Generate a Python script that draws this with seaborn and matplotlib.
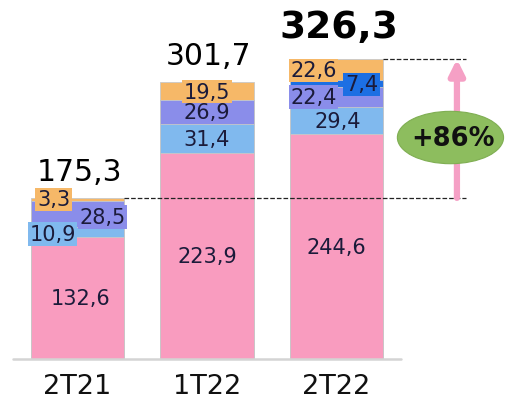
import numpy as np
import pandas as pd
import seaborn as sns
import matplotlib.pyplot as plt
from matplotlib.patches import Ellipse

periods = ['2T21', '1T22', '2T22']
pink = [132.6, 223.9, 244.6]
light_blue = [10.9, 31.4, 29.4]
purple = [28.5, 26.9, 22.4]
dark_blue = [0.0, 0.0, 7.4]
orange = [3.3, 19.5, 22.6]
totals = [175.3, 301.7, 326.3]
growth = '+86%'

layers = [pink, light_blue, purple, dark_blue, orange]
colors = ['#F99CBF', '#80B9EE', '#8A8DEA', '#1C6FE3', '#F6B868']

# label offsets in pixels (dx, dy) relative to segment centre
offsets = [
    [(3, 0), (0, 0), (0, 0)],
    [(-25, -2), (0, 0), (1, 0)],
    [(25, -3), (0, 0), (-23, 0)],
    [None, None, (25, -1)],
    [(-24, 0), (0, -1), (-23, -1)],
]

sns.set_style('white')
plt.rcParams['font.family'] = ['DejaVu Sans']

fig = plt.figure(figsize=(5.08, 4.02), dpi=100)
ax = fig.add_axes([0, 42 / 402, 1, 360 / 402])

cum = np.cumsum(np.array(layers), axis=0)
# stacked bars: draw cumulative heights from the top layer down
for i in range(len(layers) - 1, -1, -1):
    df = pd.DataFrame({'period': periods, 'value': cum[i]})
    sns.barplot(data=df, x='period', y='value', color=colors[i], width=0.72,
                saturation=1, edgecolor='#c8c8c8', linewidth=0.6, ax=ax)

def fmt(v):
    return f'{v:.1f}'.replace('.', ',')

for i, layer in enumerate(layers):
    for j, v in enumerate(layer):
        if v == 0:
            continue
        bottom = cum[i][j] - v
        dx, dy = offsets[i][j]
        ax.annotate(fmt(v), (j, bottom + v / 2), xytext=(dx, dy), textcoords='offset pixels',
                    ha='center', va='center', fontsize=15, color='#1b1b3a',
                    bbox=dict(boxstyle='square,pad=0.08', fc=colors[i], ec='none'), zorder=5)

for j, t in enumerate(totals):
    bold = j == len(totals) - 1
    ax.annotate(fmt(t), (j, t), xytext=(2, 12 if not bold else 14), textcoords='offset pixels',
                ha='center', va='bottom', fontsize=27 if bold else 21.5,
                fontweight='bold' if bold else 'normal', color='black')

# dashed reference lines and growth arrow
xr = 3.0
ax.plot([0.36, xr], [totals[0], totals[0]], ls='--', color='#222222', lw=0.9, zorder=1)
ax.plot([2.36, xr], [totals[2], totals[2]], ls='--', color='#222222', lw=0.9, zorder=1)
ax.annotate('', xy=(2.93, totals[2]), xytext=(2.93, totals[0]),
            arrowprops=dict(arrowstyle='-|>,head_width=0.45,head_length=0.9',
                            color='#F5A0C5', lw=4.5, shrinkA=0, shrinkB=0))
ax.add_patch(Ellipse((2.88, 241), 0.82, 57, fc='#8DBD5E', ec='#7FAE52', lw=0.8, zorder=6))
ax.text(2.90, 241, growth, ha='center', va='center', fontsize=18.5, fontweight='bold',
        color='#111111', zorder=7)

ax.plot([-0.5, 2.5], [0, 0], color='#d4d4d4', lw=1.8, clip_on=False, zorder=6)

ax.set_xlim(-77.5 / 129.5, (508 - 77.5) / 129.5)
ax.set_ylim(0, 360 / 0.919)
ax.set_xlabel('')
ax.set_ylabel('')
ax.set_yticks([])
ax.tick_params(axis='x', length=0, labelsize=19.5, pad=10, labelcolor='#111111')
sns.despine(ax=ax, left=True, bottom=True)

fig.savefig('out.png', dpi=100)
